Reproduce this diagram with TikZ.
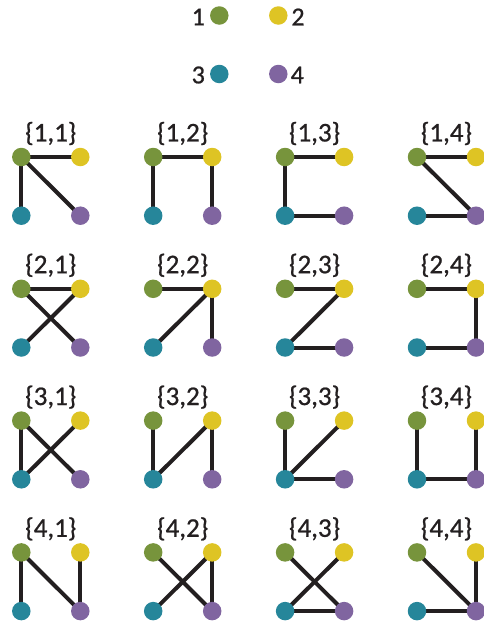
\documentclass[tikz,border=0pt]{standalone}
\usepackage{fontspec}
\setmainfont{Carlito}
\newfontfamily\labfont[FakeBold=0.8]{Carlito}
\definecolor{cgreen}{RGB}{119,148,60}
\definecolor{cyellow}{RGB}{222,196,36}
\definecolor{cteal}{RGB}{38,134,154}
\definecolor{cpurple}{RGB}{128,101,160}
\definecolor{cedge}{RGB}{35,31,32}
\tikzset{
  dot/.style={circle, inner sep=0pt, minimum size=18.5pt},
  gdot/.style={dot, fill=cgreen},
  ydot/.style={dot, fill=cyellow},
  tdot/.style={dot, fill=cteal},
  pdot/.style={dot, fill=cpurple},
  edge/.style={draw=cedge, line width=4pt},
  lab/.style={font=\labfont\fontsize{27}{27}\selectfont, text=cedge, inner sep=0pt},
  leg/.style={font=\labfont\fontsize{26}{26}\selectfont, text=cedge, inner sep=0pt},
}
\begin{document}
\begin{tikzpicture}[x=1pt,y=-1pt]
\useasboundingbox (0,0) rectangle (483,625);
% legend
\node[gdot] (L1) at (219.3,15.5) {};
\node[ydot] (L2) at (278.3,15.5) {};
\node[tdot] (L3) at (219.3,74) {};
\node[pdot] (L4) at (278.3,74) {};
\node[leg] (T1) at (198.3,17) {1};
\node[leg] (T2) at (298,17) {2};
\node[leg] (T3) at (198.3,75) {3};
\node[leg] (T4) at (297.3,75) {4};
% panels
\foreach \r/\c/\ea/\eb/\ec/\ed/\ee/\ef in {
  1/1/a/b/a/c/a/d, 1/2/a/b/a/c/b/d, 1/3/a/b/a/c/c/d, 1/4/a/b/a/d/c/d,
  2/1/a/b/a/d/b/c, 2/2/a/b/b/c/b/d, 2/3/a/b/b/c/c/d, 2/4/a/b/b/d/c/d,
  3/1/a/c/a/d/b/c, 3/2/a/c/b/c/b/d, 3/3/a/c/b/c/c/d, 3/4/a/c/b/d/c/d,
  4/1/a/c/a/d/b/d, 4/2/a/d/b/c/b/d, 4/3/a/d/b/c/c/d, 4/4/a/d/b/d/c/d}{
  \pgfmathsetmacro{\ox}{21.3+131.9*(\c-1)}
  \pgfmathsetmacro{\oy}{157+131.8*(\r-1)}
  \coordinate (P\r\c a) at (\ox,\oy);
  \coordinate (P\r\c b) at (\ox+59,\oy);
  \coordinate (P\r\c c) at (\ox,\oy+58.7);
  \coordinate (P\r\c d) at (\ox+59,\oy+58.7);
  \draw[edge] (P\r\c\ea) -- (P\r\c\eb);
  \draw[edge] (P\r\c\ec) -- (P\r\c\ed);
  \draw[edge] (P\r\c\ee) -- (P\r\c\ef);
  \node[gdot] (N\r\c a) at (P\r\c a) {};
  \node[ydot] (N\r\c b) at (P\r\c b) {};
  \node[tdot] (N\r\c c) at (P\r\c c) {};
  \node[pdot] (N\r\c d) at (P\r\c d) {};
  \node[lab] (T\r\c) at (\ox+29.5,\oy-23.5) {\{\r,\c\}};
}
\end{tikzpicture}
\end{document}
